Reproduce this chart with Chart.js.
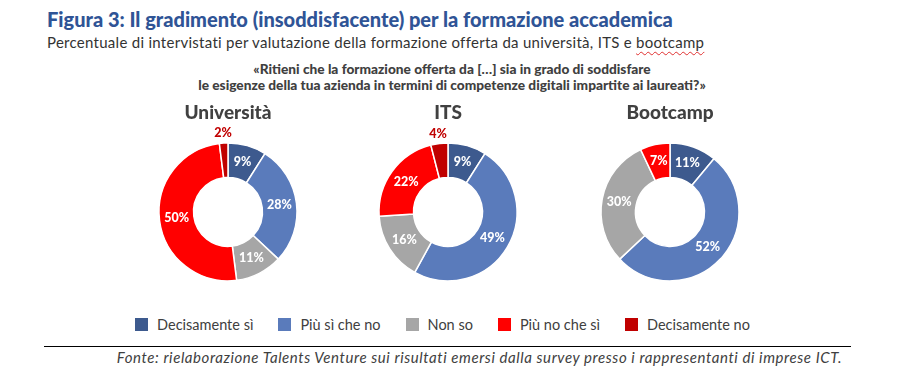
<!DOCTYPE html>
<html lang="it">
<head>
<meta charset="utf-8">
<script src="https://cdn.jsdelivr.net/npm/chart.js@4"></script>
<style>
  body { margin: 0; background: #fff; }
  #pagina { position: relative; width: 906px; height: 373px; overflow: hidden; font-family: Lato, sans-serif; }
  .testo { position: absolute; white-space: nowrap; }
  #titolo { left: 47px; top: 9px; font-size: 20px; line-height: 20px; font-weight: 900; color: #2F5496; }
  #sottotitolo { left: 47px; top: 34px; font-size: 15px; line-height: 16px; letter-spacing: 0.28px; color: #333; }
  #sottotitolo span { text-decoration: underline wavy #e03030; text-decoration-thickness: 1px; text-underline-offset: 3px; }
  #domanda { left: 0; width: 904px; top: 61px; font-size: 13.7px; line-height: 16px; font-weight: 900; color: #404040; text-align: center; }
  .grafico { position: absolute; top: 89px; }
  #legenda { position: absolute; left: 0; width: 885px; top: 316px; display: flex; justify-content: center; gap: 25px; font-size: 14.5px; color: #404040; }
  #legenda .voce { display: flex; align-items: center; }
  #legenda .quadrato { width: 13px; height: 13px; margin-right: 9px; }
  #linea { position: absolute; left: 44px; width: 807px; top: 346px; height: 1px; background: #000; }
  #fonte { right: 64px; top: 348px; font-size: 15px; line-height: 18px; letter-spacing: 0.58px; font-style: italic; color: #404040; }
</style>
</head>
<body>
<div id="pagina">
  <div id="titolo" class="testo">Figura 3: Il gradimento (insoddisfacente) per la formazione accademica</div>
  <div id="sottotitolo" class="testo">Percentuale di intervistati per valutazione della formazione offerta da università, ITS e <span>bootcamp</span></div>
  <div id="domanda" class="testo">«Ritieni che la formazione offerta da […] sia in grado di soddisfare<br>le esigenze della tua azienda in termini di competenze digitali impartite ai laureati?»</div>
  <canvas id="graficaUniversita" class="grafico" width="220" height="211" style="left:118px"></canvas>
  <canvas id="graficaITS" class="grafico" width="220" height="211" style="left:338px"></canvas>
  <canvas id="graficaBootcamp" class="grafico" width="220" height="211" style="left:560px"></canvas>
  <div id="legenda"></div>
  <div id="linea"></div>
  <div id="fonte" class="testo">Fonte: rielaborazione Talents Venture sui risultati emersi dalla survey presso i rappresentanti di imprese ICT.</div>
</div>
<script>
const categorie = ['Decisamente sì', 'Più sì che no', 'Non so', 'Più no che sì', 'Decisamente no'];
const universita = [9, 28, 11, 50, 2];
const its = [9, 49, 16, 22, 4];
const bootcamp = [11, 52, 30, 7, 0];

const colori = ['#3D5A8E', '#5A7BBB', '#A6A6A6', '#FF0000', '#C00000'];

// etichette percentuali sulle fette (le piccole fuori, in rosso scuro)
const etichette = {
  id: 'etichette',
  afterDatasetsDraw(chart) {
    const ctx = chart.ctx;
    const meta = chart.getDatasetMeta(0);
    const valori = chart.data.datasets[0].data;
    ctx.save();
    ctx.font = '900 12.5px Lato';
    ctx.textAlign = 'center';
    ctx.textBaseline = 'middle';
    meta.data.forEach((arco, i) => {
      const v = valori[i];
      if (!v) return;
      const p = arco.getProps(['x', 'y', 'startAngle', 'endAngle', 'innerRadius', 'outerRadius'], true);
      const ang = (p.startAngle + p.endAngle) / 2;
      let r = (p.innerRadius + p.outerRadius) / 2;
      ctx.fillStyle = '#fff';
      if (v < 5) {
        r = p.outerRadius + 10;
        ctx.fillStyle = '#C00000';
      }
      ctx.fillText(v + '%', p.x + Math.cos(ang) * r, p.y + Math.sin(ang) * r);
    });
    ctx.restore();
  }
};

function crearGrafica(id, titolo, valori) {
  const ctx = document.getElementById(id).getContext('2d');
  return new Chart(ctx, {
    type: 'doughnut',
    data: {
      labels: categorie,
      datasets: [
        {
          data: valori,
          backgroundColor: colori,
          borderColor: '#fff',
          borderWidth: 1.5,
          hoverOffset: 0
        }
      ]
    },
    options: {
      responsive: false,
      animation: false,
      radius: 69,
      cutout: '50%',
      plugins: {
        legend: { display: false },
        tooltip: { enabled: false },
        title: {
          display: true,
          text: titolo,
          color: '#404040',
          font: { family: 'Lato', size: 19, weight: '900' },
          padding: { top: 12, bottom: 0 }
        }
      }
    },
    plugins: [etichette]
  });
}

crearGrafica('graficaUniversita', 'Università', universita);
crearGrafica('graficaITS', 'ITS', its);
crearGrafica('graficaBootcamp', 'Bootcamp', bootcamp);

// legenda comune
const legenda = document.getElementById('legenda');
categorie.forEach((nome, i) => {
  const voce = document.createElement('div');
  voce.className = 'voce';
  voce.innerHTML = '<div class="quadrato" style="background:' + colori[i] + '"></div><span>' + nome + '</span>';
  legenda.appendChild(voce);
});
</script>
</body>
</html>
